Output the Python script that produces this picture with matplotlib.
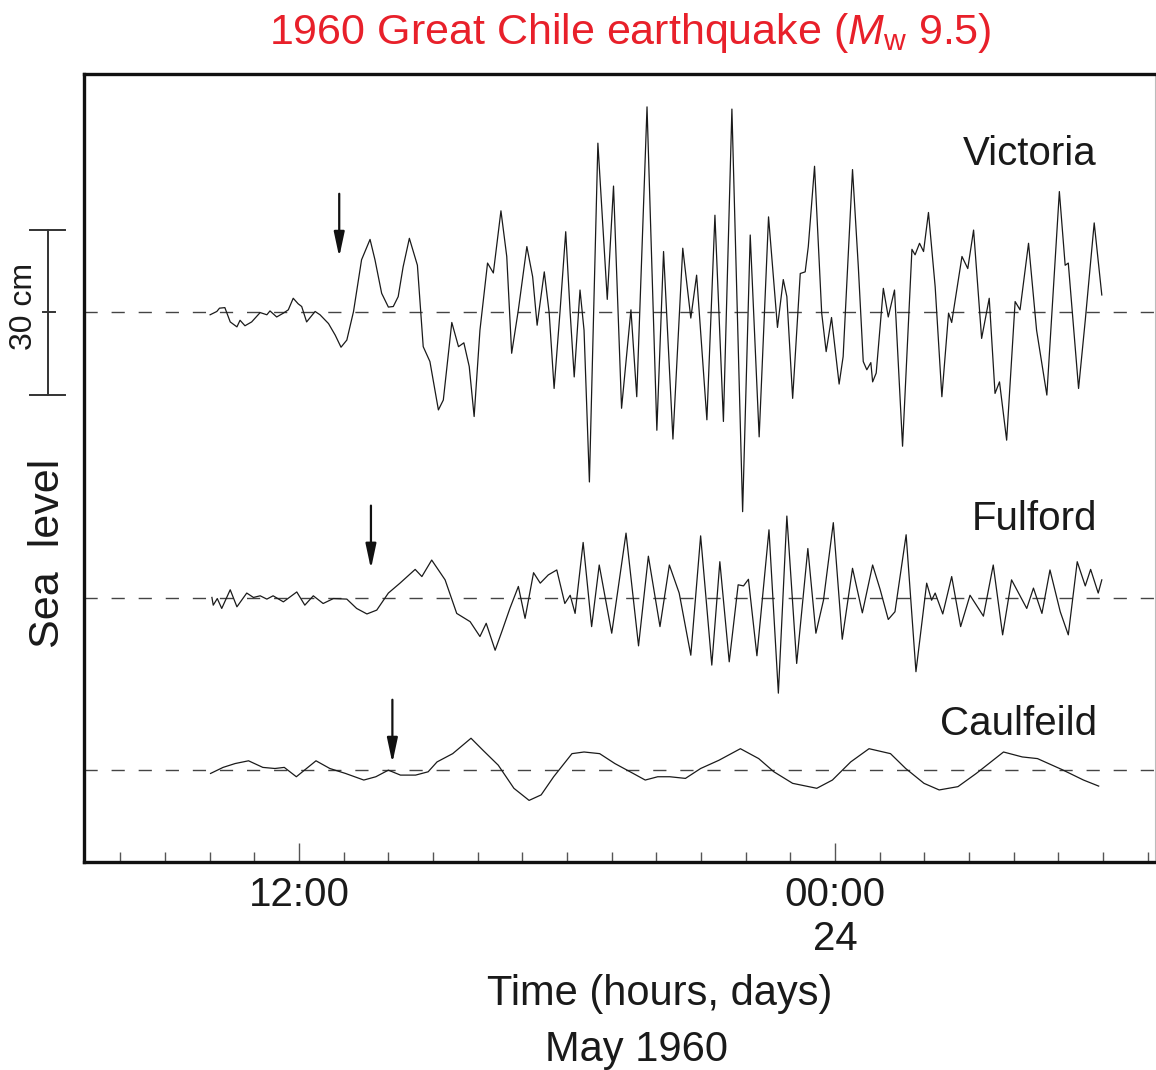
import numpy as np
import matplotlib.pyplot as plt

plt.rcParams['font.family'] = ['Liberation Sans', 'DejaVu Sans']
plt.rcParams['mathtext.fontset'] = 'custom'
plt.rcParams['mathtext.rm'] = 'Liberation Sans'
plt.rcParams['mathtext.it'] = 'Liberation Sans:italic'

# time: hours after 00:00 on 23 May 1960; sea level: cm about the mean
victoria_t = [10.01, 10.16, 10.22, 10.34, 10.46, 10.61, 10.68, 10.79, 10.94, 11.13,
              11.28, 11.35, 11.50, 11.65, 11.76, 11.87, 11.98, 12.06, 12.17, 12.26,
              12.36, 12.47, 12.66, 12.81, 12.94, 13.07, 13.22, 13.40, 13.59, 13.70,
              13.85, 14.00, 14.11, 14.22, 14.33, 14.47, 14.65, 14.78, 14.93, 15.12,
              15.23, 15.42, 15.57, 15.69, 15.81, 15.92, 16.05, 16.22, 16.35, 16.52,
              16.65, 16.76, 16.91, 17.10, 17.23, 17.33, 17.49, 17.60, 17.71, 17.84,
              17.97, 18.07, 18.16, 18.29, 18.38, 18.50, 18.69, 18.90, 19.04, 19.22,
              19.43, 19.56, 19.79, 20.01, 20.16, 20.37, 20.59, 20.77, 20.90, 21.13,
              21.31, 21.50, 21.69, 21.93, 22.10, 22.30, 22.51, 22.60, 22.71, 22.84,
              22.92, 23.05, 23.22, 23.33, 23.40, 23.54, 23.70, 23.80, 23.92, 24.09,
              24.18, 24.39, 24.52, 24.63, 24.71, 24.80, 24.84, 24.92, 25.08, 25.19,
              25.33, 25.51, 25.72, 25.79, 25.89, 25.98, 26.09, 26.24, 26.39, 26.54,
              26.61, 26.84, 26.97, 27.10, 27.28, 27.45, 27.58, 27.68, 27.84, 28.03,
              28.14, 28.33, 28.51, 28.74, 29.02, 29.15, 29.22, 29.45, 29.60, 29.80,
              29.97]
victoria_cm = [-0.5, 0.1, 0.7, 0.8, -1.8, -2.7, -1.5, -2.5, -1.8, -0.1,
               -0.5, 0.2, -0.9, -0.2, 0.4, 2.5, 1.5, 1.0, -1.8, -0.9,
               0.1, -0.5, -2.1, -4.2, -6.4, -5.1, 0.1, 9.5, 13.2, 9.5,
               3.4, 0.9, 1.0, 2.8, 8.2, 13.4, 8.5, -6.3, -9.0, -17.8,
               -16.0, -1.9, -6.3, -5.6, -9.9, -19.0, -3.3, 8.9, 7.1, 18.4,
               10.1, -7.5, 0.4, 11.9, 6.4, -2.4, 7.3, -0.2, -13.9, -0.2,
               14.6, -0.2, -11.8, 4.0, -3.3, -30.9, 30.7, 2.3, 22.9, -17.5,
               0.4, -15.4, 37.3, -21.5, 11.0, -23.1, 11.6, -1.1, 6.7, -19.6,
               17.6, -19.9, 36.9, -36.3, 14.0, -22.7, 17.3, 8.2, -2.8, 5.9,
               2.8, -15.7, 7.0, 7.3, 11.9, 26.5, -0.2, -7.2, -1.0, -13.1,
               -8.1, 25.9, 8.2, -9.0, -10.5, -9.2, -12.7, -11.1, 4.3, -0.9,
               4.0, -24.4, 11.4, 10.4, 12.5, 11.0, 18.1, 4.6, -15.4, -0.2,
               -1.9, 10.1, 7.9, 14.9, -4.8, 2.5, -14.8, -12.7, -23.3, 1.9,
               0.4, 12.5, -3.3, -15.1, 21.9, 8.5, 8.9, -13.9, -1.5, 16.2,
               3.1]

fulford_t = [10.05, 10.08, 10.17, 10.27, 10.46, 10.61, 10.83, 10.98, 11.13, 11.28,
             11.42, 11.65, 11.95, 12.13, 12.32, 12.54, 12.77, 13.07, 13.29, 13.52,
             13.74, 14.00, 14.26, 14.60, 14.75, 14.97, 15.27, 15.53, 15.83, 16.05,
             16.19, 16.39, 16.54, 16.72, 16.91, 17.06, 17.25, 17.40, 17.58, 17.77,
             17.95, 18.07, 18.18, 18.36, 18.55, 18.72, 19.00, 19.32, 19.60, 19.82,
             20.08, 20.29, 20.51, 20.77, 20.99, 21.24, 21.42, 21.63, 21.83, 21.95,
             22.06, 22.25, 22.52, 22.73, 22.92, 23.14, 23.39, 23.57, 23.74, 23.96,
             24.16, 24.39, 24.61, 24.84, 25.01, 25.19, 25.34, 25.59, 25.81, 26.05,
             26.16, 26.24, 26.41, 26.61, 26.81, 27.02, 27.21, 27.32, 27.54, 27.75,
             27.95, 28.29, 28.44, 28.63, 28.81, 29.04, 29.22, 29.42, 29.60, 29.72,
             29.89, 29.97]
fulford_cm = [0.1, -1.3, -0.1, -1.9, 1.5, -1.6, 0.9, 0.1, 0.4, -0.2,
              0.4, -0.7, 1.1, -1.3, 0.4, -1.0, -0.1, -0.2, -1.9, -2.9,
              -2.2, 0.9, 2.7, 5.2, 3.9, 6.9, 3.3, -2.8, -4.3, -7.0,
              -4.6, -9.5, -6.1, -1.9, 2.1, -3.7, 4.6, 2.7, 4.2, 5.1,
              -1.0, 0.5, -2.8, 10.1, -5.2, 6.0, -6.4, 11.8, -8.7, 7.6,
              -5.2, 6.0, 0.9, -10.4, 11.3, -12.2, 6.6, -11.6, 2.4, 2.2,
              3.4, -10.5, 12.4, -17.3, 14.9, -11.9, 9.0, -6.4, -0.4, 13.7,
              -7.5, 5.4, -2.7, 6.0, 1.5, -3.9, -2.5, 11.5, -13.4, 2.7,
              -0.4, 0.9, -2.9, 3.9, -5.2, 0.5, -1.9, -3.3, 6.0, -6.7,
              3.3, -1.9, 1.8, -2.8, 5.1, -2.5, -6.7, 6.6, 2.2, 5.2,
              0.9, 3.3]

caulfeild_t = [10.02, 10.30, 10.57, 10.87, 11.19, 11.46, 11.67, 11.94, 12.38, 12.69,
               13.04, 13.45, 13.72, 14.00, 14.27, 14.61, 14.89, 15.09, 15.44, 15.85,
               16.12, 16.46, 16.81, 17.15, 17.42, 17.70, 18.11, 18.38, 18.73, 19.07,
               19.48, 19.75, 20.03, 20.30, 20.65, 20.99, 21.40, 21.88, 22.29, 22.63,
               23.05, 23.59, 23.94, 24.35, 24.76, 25.24, 25.58, 25.99, 26.33, 26.75,
               27.16, 27.77, 28.19, 28.53, 29.08, 29.56, 29.90]
caulfeild_cm = [-0.6, 0.5, 1.2, 1.7, 0.5, 0.3, 0.5, -1.2, 1.7, 0.3,
                -0.6, -1.8, -1.2, 0.0, -0.9, -0.9, -0.3, 1.5, 3.0, 5.8,
                3.6, 0.9, -3.3, -5.5, -4.5, -1.2, 3.0, 3.3, 3.0, 1.2,
                -0.6, -1.8, -1.2, -1.2, -1.5, 0.3, 1.8, 3.9, 2.1, -0.3,
                -2.4, -3.3, -1.8, 1.5, 3.9, 3.0, 0.3, -2.4, -3.6, -3.0,
                -0.6, 3.3, 2.4, 2.1, 0.1, -1.8, -2.9]

stations = ['Victoria', 'Fulford', 'Caulfeild']
arrival_t = [12.90, 13.61, 14.09]   # tsunami arrival marked by arrows

tick_hours = list(range(8, 32))
label_hours = [12, 24]
label_text = ['12:00', '00:00\n24']

# ---- layout ----
fig = plt.figure(figsize=(11.56, 10.70), dpi=100)
ax = fig.add_axes([0.0724, 0.1944, 0.9267, 0.7364])
ax.set_xlim(7.18, 31.16)
ax.set_ylim(0, 143.27)

offsets = [100, 48, 16.7]
tip_gap = [10, 5.3, 1.3]
label_y = [126.7, 60.4, 23.1]
records = [(victoria_t, victoria_cm), (fulford_t, fulford_cm), (caulfeild_t, caulfeild_cm)]

for (t, cm), name, off, arr, gap, ly in zip(records, stations, offsets, arrival_t, tip_gap, label_y):
    ax.axhline(off, color='#444444', lw=1.0, ls=(0, (9.5, 10)), zorder=1)
    ax.plot(t, np.array(cm) + off, color='#1a1a1a', lw=0.9, zorder=2,
            solid_joinstyle='round')
    ax.annotate('', xy=(arr, off + gap), xytext=(arr, off + gap + 11.5),
                arrowprops=dict(arrowstyle='-|>,head_length=0.75,head_width=0.16',
                                mutation_scale=20, lw=1.6, color='#111111',
                                shrinkA=0, shrinkB=0))
    ax.text(29.86, ly, name, ha='right', va='baseline', fontsize=29, color='#1a1a1a')

# 30 cm scale bar left of the frame
sb_x = 6.38
v0 = offsets[0]
kw = dict(color='#333333', lw=1.4, clip_on=False)
ax.plot([sb_x, sb_x], [v0 - 15, v0 + 15], **kw)
ax.plot([5.98, 6.76], [v0 - 15, v0 - 15], **kw)
ax.plot([5.98, 6.76], [v0 + 15, v0 + 15], **kw)
ax.plot([6.27, 6.54], [v0, v0], **kw)
ax.text(5.84, v0 + 1.1, '30 cm', rotation=90, ha='center', va='center',
        fontsize=23, color='#1a1a1a', clip_on=False)

# frame
for side in ['left', 'top', 'bottom']:
    ax.spines[side].set_linewidth(2.4)
    ax.spines[side].set_color('#111111')
ax.spines['right'].set_linewidth(0.8)
ax.spines['right'].set_color('#bbbbbb')

ax.set_yticks([])
ax.set_xticks(label_hours)
ax.set_xticklabels(label_text)
ax.set_xticks(tick_hours, minor=True)
ax.tick_params(axis='x', which='major', direction='in', length=14, width=1.0,
               color='#555555', labelsize=29, pad=10, labelcolor='#1a1a1a')
ax.tick_params(axis='x', which='minor', direction='in', length=7, width=1.0,
               color='#555555')

fig.text(0.0415, 0.4825, 'Sea  level', rotation=90, ha='center', va='center',
         fontsize=31, color='#1a1a1a')
fig.text(0.5705, 0.0607, 'Time (hours, days)', ha='center', va='baseline',
         fontsize=30, color='#1a1a1a')
fig.text(0.551, 0.0084, 'May 1960', ha='center', va='baseline',
         fontsize=30, color='#1a1a1a')
fig.text(0.545, 0.9589, r'1960 Great Chile earthquake ($M_{\rm w}$ 9.5)',
         ha='center', va='baseline', fontsize=31, color='#e8202a')

fig.savefig('out.png', dpi=100)
